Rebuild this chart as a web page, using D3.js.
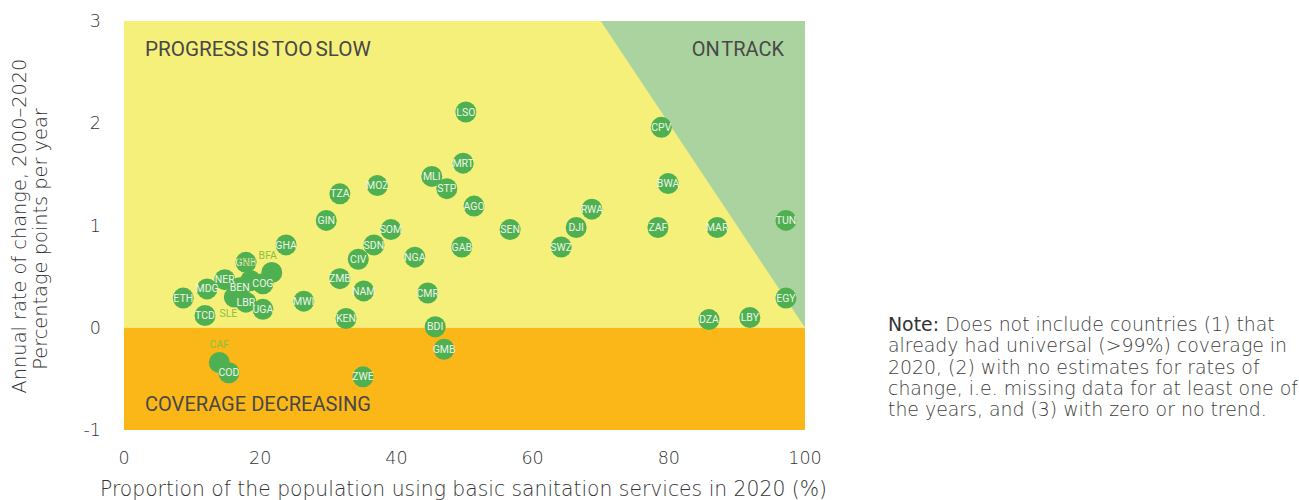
<!DOCTYPE html>
<html><head><meta charset="utf-8">
<script src="https://cdn.jsdelivr.net/npm/d3@7"></script>
<style>body{margin:0;background:#fff;}svg{display:block;}</style>
</head><body>
<svg id="c" width="1299" height="500"></svg>
<script>
const codes = ["LSO","CPV","MRT","MLI","STP","MOZ","TZA","AGO","BWA","RWA","GIN","SOM","SEN","DJI","ZAF","MAR","TUN","SDN","GHA","GAB","SWZ","CIV","NGA","TGO","BFA","SLE","GNB","ZMB","NAM","CMR","MWI","KEN","BDI","GMB","ZWE","DZA","LBY","EGY","ETH","MDG","NER","BEN","COG","LBR","UGA","TCD","CAF","COD"];
const coverage = [50.2,78.9,49.8,45.2,47.4,37.2,31.7,51.4,79.9,68.7,29.7,39.2,56.7,66.4,78.4,87.1,97.2,36.7,23.8,49.6,64.2,34.4,42.7,18.6,21.7,16.2,17.9,31.7,35.2,44.6,26.4,32.6,45.7,47.0,35.1,85.9,91.9,97.2,8.7,12.2,14.8,17.0,20.4,17.9,20.4,11.9,14.0,15.4];
const rate = [2.11,1.96,1.61,1.48,1.36,1.39,1.31,1.19,1.41,1.16,1.05,0.96,0.96,0.98,0.98,0.98,1.05,0.81,0.81,0.79,0.79,0.67,0.69,0.46,0.54,0.30,0.64,0.48,0.36,0.34,0.26,0.09,0.01,-0.21,-0.48,0.08,0.10,0.29,0.29,0.38,0.47,0.39,0.43,0.25,0.18,0.12,-0.34,-0.44];
// labels drawn outside the dot (hidden behind others)
const outsideLabels = {TGO:[-4,-18], BFA:[-4,-17], SLE:[-6,16], CAF:[0,-18]};
const xTicks = [0,20,40,60,80,100];
const yTicks = [3,2,1,0,-1];
const noteLines = ["Does not include countries (1) that","already had universal (>99%) coverage in","2020, (2) with no estimates for rates of","change, i.e. missing data for at least one of","the years, and (3) with zero or no trend."];

const svg = d3.select("#c");
const m = {l:124, r:805, t:21, b:430};
const x = d3.scaleLinear().domain([0,100]).range([m.l,m.r]);
const y = d3.scaleLinear().domain([-1,3]).range([m.b,m.t]);

function fit(sel, w){
  const cur = sel.node().getComputedTextLength();
  const fs = parseFloat(sel.attr("font-size"));
  const nf = fs*w/cur;
  sel.attr("font-size", nf.toFixed(2));
  return nf;
}

// backgrounds
svg.append("rect").attr("x",x(0)).attr("y",y(3)).attr("width",x(100)-x(0)).attr("height",y(0)-y(3)).attr("fill","#F5F07A");
svg.append("rect").attr("x",x(0)).attr("y",y(0)).attr("width",x(100)-x(0)).attr("height",y(-1)-y(0)).attr("fill","#FBB718");
// on track region: rate >= (100-x)/10
svg.append("path").attr("d", d3.line()([[x(70),y(3)],[x(100),y(3)],[x(100),y(0)]])+"Z").attr("fill","#AAD3A0");

// region labels
const RF = "Liberation Sans Narrow, Roboto, sans-serif";
const t1 = svg.append("text").attr("font-family",RF).attr("font-size",18).attr("fill","#484848").attr("x",145).attr("y",56).attr("word-spacing","-2").text("PROGRESS IS TOO SLOW");
fit(t1,225);
const t2 = svg.append("text").attr("font-family",RF).attr("font-size",18).attr("fill","#484848").attr("x",784).attr("y",56).attr("text-anchor","end").attr("word-spacing","-3").text("ON TRACK");
fit(t2,92);
const t3 = svg.append("text").attr("font-family",RF).attr("font-size",18).attr("fill","#484848").attr("x",145).attr("y",411).text("COVERAGE DECREASING");
fit(t3,226);

// axes tick labels
const AF = "DejaVu Sans, sans-serif";
const ax = svg.append("g").attr("font-family",AF).attr("font-weight","200").attr("fill","#333");
ax.selectAll(".yt").data(yTicks).join("text").attr("font-size",17.5).attr("x",101).attr("y",d=>y(d)+6).attr("text-anchor","end").text(d=>d);
ax.selectAll(".xt").data(xTicks).join("text").attr("font-size",17.5).attr("x",d=>x(d)).attr("y",464).attr("text-anchor","middle").text(d=>d);
const xt = ax.append("text").attr("font-size",18).attr("x",(m.l+m.r)/2-1).attr("y",496).attr("text-anchor","middle").text("Proportion of the population using basic sanitation services in 2020 (%)");
fit(xt,727);
const yl1 = ax.append("text").attr("font-size",18).attr("transform","translate(26,226) rotate(-90)").attr("text-anchor","middle").text("Annual rate of change, 2000–2020");
const yfs = fit(yl1,335);
ax.append("text").attr("font-size",yfs.toFixed(2)).attr("transform","translate(47,239) rotate(-90)").attr("text-anchor","middle").text("Percentage points per year");

// points
const data = codes.map((c,i)=>({c, x:coverage[i], y:rate[i]}));
const g = svg.append("g");
g.selectAll("circle").data(data).join("circle")
  .attr("cx",d=>x(d.x)).attr("cy",d=>y(d.y)).attr("r",10.5).attr("fill","#4FB052");
g.selectAll("text.in").data(data.filter(d=>!outsideLabels[d.c])).join("text")
  .attr("x",d=>x(d.x)).attr("y",d=>y(d.y)+3.6).attr("text-anchor","middle")
  .attr("font-family",RF).attr("font-size",10.5).attr("fill","#EEF5E6").text(d=>d.c);
g.selectAll("text.out").data(data.filter(d=>outsideLabels[d.c])).join("text")
  .attr("x",d=>x(d.x)+outsideLabels[d.c][0]).attr("y",d=>y(d.y)+outsideLabels[d.c][1]+3.6).attr("text-anchor","middle")
  .attr("font-family",RF).attr("font-size",10.5).attr("fill","#8CBF3F").text(d=>d.c);

// note
const ng = svg.append("g").attr("font-family",AF).attr("font-weight","200").attr("fill","#3c3c3c");
const noteHead = ng.append("text").attr("font-size",15.5).attr("font-weight","400").attr("fill","#333").attr("x",888).attr("y",331).text("Note:");
const nl = ng.selectAll("text.nl").data(noteLines).join("text").attr("class","nl").attr("font-size",15.5)
  .attr("x",888).attr("y",(d,i)=>331+i*21.3).text(d=>d);
{
  const hw = noteHead.node().getComputedTextLength();
  const sp = 5;
  const w1 = nl.nodes()[0].getComputedTextLength();
  const nf = 15.5*387/(hw+sp+w1);
  noteHead.attr("font-size",nf.toFixed(2));
  nl.attr("font-size",nf.toFixed(2));
  const hw2 = noteHead.node().getComputedTextLength();
  d3.select(nl.nodes()[0]).attr("x",888+hw2+sp*nf/15.5);
}
</script>
</body></html>
